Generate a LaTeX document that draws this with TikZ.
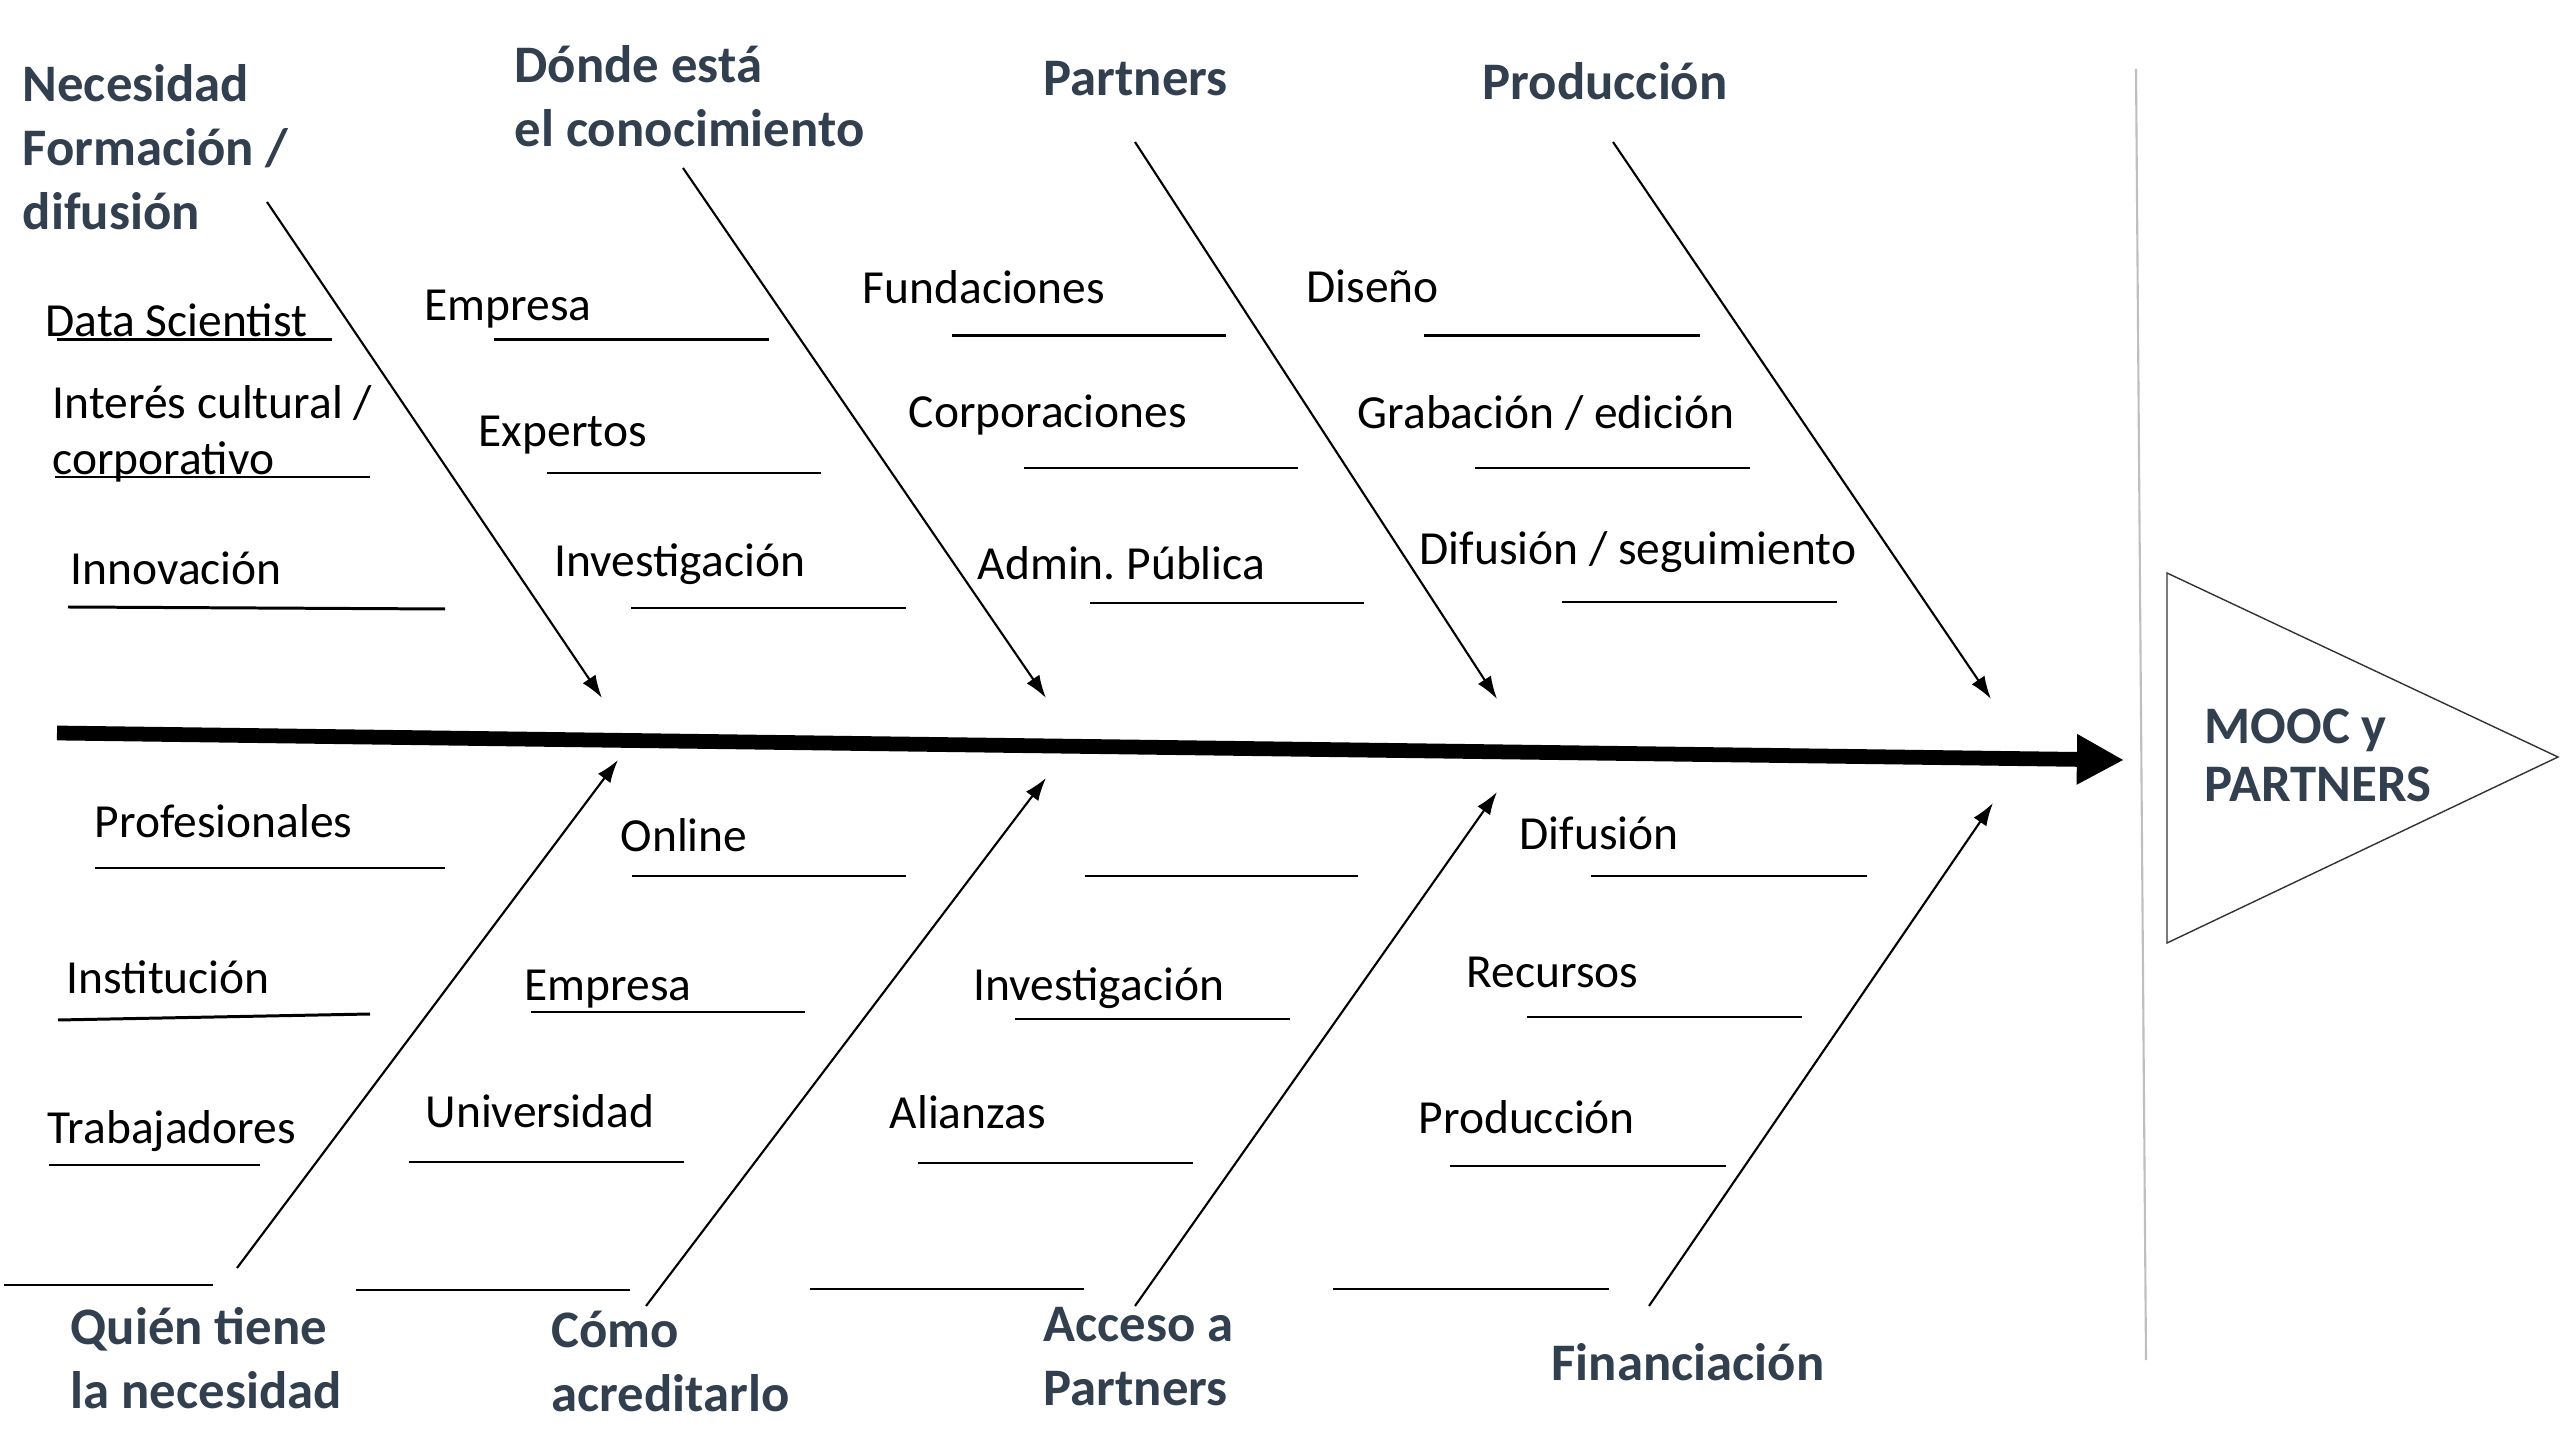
\documentclass[tikz,border=0pt]{standalone}
\usepackage{fontspec}
\setmainfont{Carlito}
\usetikzlibrary{arrows.meta}
\definecolor{slate}{RGB}{50,63,79}
\frenchspacing
\begin{document}
\begin{tikzpicture}[x=0.01cm,y=-0.01cm,
  lbl/.style={anchor=base west, inner sep=0pt, font=\fontsize{13.5}{16.2}\selectfont, align=left},
  head/.style={anchor=base west, inner sep=0pt, font=\fontsize{15}{18.2}\selectfont\bfseries, text=slate, align=left},
  bone/.style={line width=0.6pt, -{Latex[length=6.5pt,width=4.4pt]}},
  uline/.style={line width=0.85pt},
  spine/.style={line width=4.2pt, -{Triangle[length=13.4pt,width=13.4pt]}}]
\useasboundingbox[fill=white] (0,0) rectangle (2560,1440);

% grey separator and head triangle
\draw[line width=0.6pt, black!25] (2136,69) -- (2146,1360);
\draw[line width=0.4pt, black!80] (2167,573) -- (2558,757) -- (2167,943) -- cycle;
\node[head, font=\fontsize{15}{16.5}\selectfont\bfseries] (mooc) at (2204,802) {MOOC y\\PARTNERS};

% spine
\coordinate (sp0) at (57,733);
\coordinate (sp1) at (2124,760);
\draw[spine] (sp0) -- (sp1);

% headings (base anchor = baseline of last line)
\node[head] (h1) at (22,230) {Necesidad\\Formación /\\difusión};
\node[head] (h2) at (514,147) {Dónde está\\el conocimiento};
\node[head] (h3) at (1043,96) {Partners};
\node[head] (h4) at (1482,100) {Producción};
\node[head] (h5) at (70,1408) {Quién tiene\\la necesidad};
\node[head] (h6) at (551,1411) {Cómo\\acreditarlo};
\node[head] (h7) at (1043,1405) {Acceso a\\Partners};
\node[head] (h8) at (1551,1380) {Financiación};

% bones
\coordinate (u1s) at (267,202);  \coordinate (u1e) at (602,698);
\coordinate (u2s) at (683,168);  \coordinate (u2e) at (1046,698);
\coordinate (u3s) at (1135,142); \coordinate (u3e) at (1497,699);
\coordinate (u4s) at (1613,142); \coordinate (u4e) at (1991,699);
\coordinate (l1s) at (237,1268); \coordinate (l1e) at (618,760);
\coordinate (l2s) at (646,1306); \coordinate (l2e) at (1046,778);
\coordinate (l3s) at (1135,1306);\coordinate (l3e) at (1497,792);
\coordinate (l4s) at (1649,1306);\coordinate (l4e) at (1993,803);
\foreach \b in {u1,u2,u3,u4,l1,l2,l3,l4}
  \draw[bone] (\b s) -- (\b e);

% upper labels
\node[lbl] (a1) at (45,337) {Data Scientist};
\node[lbl] (a2) at (52,475) {Interés cultural /\\corporativo};
\node[lbl] (a3) at (70,585) {Innovación};
\node[lbl] (b1) at (424,321) {Empresa};
\node[lbl] (b2) at (478,447) {Expertos};
\node[lbl] (b3) at (554,577) {Investigación};
\node[lbl] (c1) at (862,304) {Fundaciones};
\node[lbl] (c2) at (908,428) {Corporaciones};
\node[lbl] (c3) at (977,580) {Admin. Pública};
\node[lbl] (d1) at (1306,303) {Diseño};
\node[lbl] (d2) at (1357,429) {Grabación / edición};
\node[lbl] (d3) at (1419,565) {Difusión / seguimiento};

% lower labels
\node[lbl] (e1) at (94,838) {Profesionales};
\node[lbl] (e2) at (66,993) {Institución};
\node[lbl] (e3) at (47,1143) {Trabajadores};
\node[lbl] (f1) at (620,851) {Online};
\node[lbl] (f2) at (524,1001) {Empresa};
\node[lbl] (f3) at (425,1127) {Universidad};
\node[lbl] (g2) at (973,1001) {Investigación};
\node[lbl] (g3) at (889,1128) {Alianzas};
\node[lbl] (k1) at (1519,850) {Difusión};
\node[lbl] (k2) at (1466,987) {Recursos};
\node[lbl] (k3) at (1418,1133) {Producción};

% underlines
\draw[uline] (57,340) -- (332,340);
\draw[uline] (55,477) -- (370,477);
\draw[uline] (68,607) -- (445,609);
\draw[uline] (494,340) -- (769,340);
\draw[uline] (547,473) -- (821,473);
\draw[uline] (631,608) -- (906,608);
\draw[uline] (952,336) -- (1226,336);
\draw[uline] (1024,468) -- (1298,468);
\draw[uline] (1090,603) -- (1364,603);
\draw[uline] (1424,336) -- (1700,336);
\draw[uline] (1475,468) -- (1750,468);
\draw[uline] (1562,602) -- (1837,602);

\draw[uline] (95,868) -- (445,868);
\draw[uline] (58,1020) -- (370,1014);
\draw[uline] (49,1165) -- (260,1165);
\draw[uline] (4,1285) -- (213,1285);
\draw[uline] (632,876) -- (906,876);
\draw[uline] (531,1012) -- (805,1012);
\draw[uline] (409,1162) -- (684,1162);
\draw[uline] (356,1290) -- (630,1290);
\draw[uline] (1085,876) -- (1358,876);
\draw[uline] (1015,1019) -- (1290,1019);
\draw[uline] (918,1163) -- (1193,1163);
\draw[uline] (810,1289) -- (1084,1289);
\draw[uline] (1591,876) -- (1867,876);
\draw[uline] (1527,1017) -- (1802,1017);
\draw[uline] (1450,1166) -- (1726,1166);
\draw[uline] (1333,1289) -- (1609,1289);
\end{tikzpicture}
\end{document}
